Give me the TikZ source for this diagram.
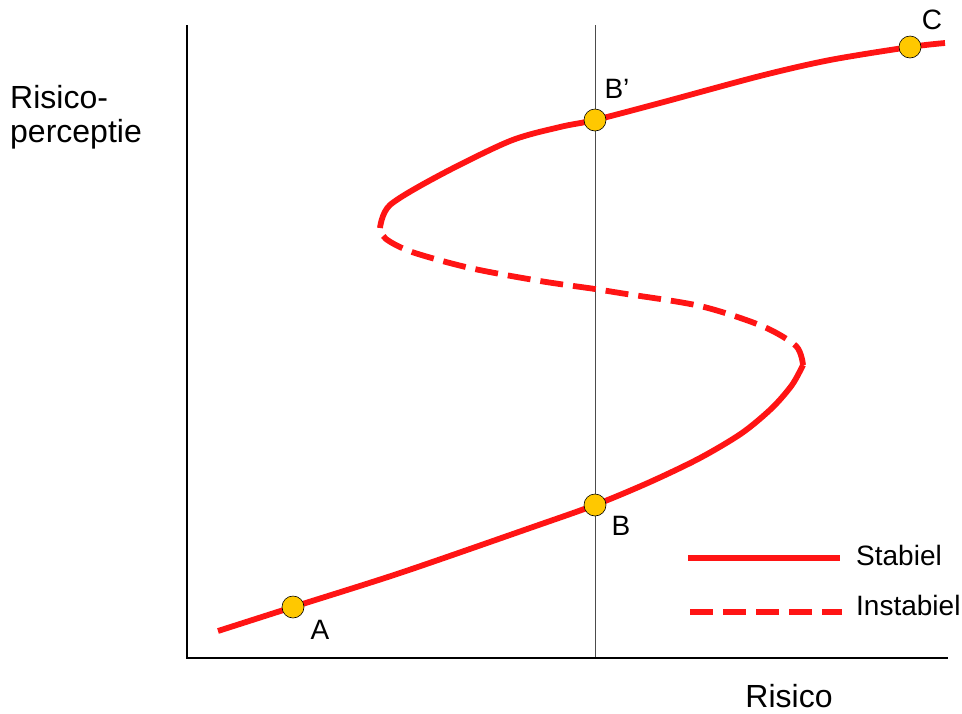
\documentclass[tikz,border=0pt]{standalone}
\usepackage{fontspec}
\setmainfont{Liberation Sans}
\begin{document}
\begin{tikzpicture}[x=1pt,y=-1pt,
  curve/.style={draw={rgb,255:red,255;green,20;blue,20}, line width=5.8pt},
  unstable/.style={curve, dash pattern=on 23pt off 10pt},
  axis/.style={draw=black, line width=2pt},
  guide/.style={draw=black!70, line width=0.8pt},
  pt/.style={circle, draw=black, line width=0.6pt, fill={rgb,255:red,255;green,200;blue,0}, minimum size=22pt, inner sep=0pt},
  lbl/.style={font=\fontsize{28}{30}\selectfont, inner sep=0pt},
  big/.style={font=\fontsize{32}{36}\selectfont, inner sep=0pt}]
\useasboundingbox (0,0) rectangle (962,713);
% axes
\coordinate (O) at (187,658);
\coordinate (Ytop) at (187,25);
\coordinate (Xend) at (948,658);
\coordinate (Vtop) at (595,25);
\coordinate (Vbot) at (595,658);
\draw[guide] (Vtop) -- (Vbot);
\draw[axis] (Ytop) -- (O) -- (Xend);
% lower stable branch
\draw[curve, line join=round] plot[smooth, tension=0.5] coordinates {(218,631) (293,607) (400,573) (530,528) (595,505) (650,482) (700,458) (742,433) (772,408) (792,385) (803,365)};
% unstable branch
\draw[unstable, line join=round] plot[smooth, tension=0.5] coordinates {(803,365) (796,346) (762,326) (700,306) (620,293) (595,289) (540,281) (470,268) (412,252) (386,239) (380,228)};
% upper stable branch
\draw[curve, line join=round] plot[smooth, tension=0.5] coordinates {(380,228) (390,205) (440,175) (510,141) (560,127) (595,120) (660,103) (760,76) (830,60) (910,47) (945,43)};
% points
\node[pt] (A) at (293,607) {};
\node[pt] (B) at (595,505) {};
\node[pt] (Bp) at (595,120) {};
\node[pt] (C) at (910,47) {};
\node[lbl, anchor=center] (lA) at (320,630) {A};
\node[lbl, anchor=center] (lB) at (621,526) {B};
\node[lbl, anchor=center] (lBp) at (617,89) {B’};
\node[lbl, anchor=center] (lC) at (932,20) {C};
% axis labels
\node[big, anchor=base west] (yl1) at (10,108) {Risico-};
\node[big, anchor=base west] (yl2) at (10,142) {perceptie};
\node[big, anchor=base] (xl) at (789,707) {Risico};
% legend
\coordinate (s1) at (688,558);
\coordinate (s2) at (840,558);
\coordinate (d1) at (690,612);
\coordinate (d2) at (842,612);
\draw[curve] (s1) -- (s2);
\draw[unstable] (d1) -- (d2);
\node[lbl, anchor=west] (ls) at (856,555) {Stabiel};
\node[lbl, anchor=west] (lu) at (856,605) {Instabiel};
\end{tikzpicture}
\end{document}
